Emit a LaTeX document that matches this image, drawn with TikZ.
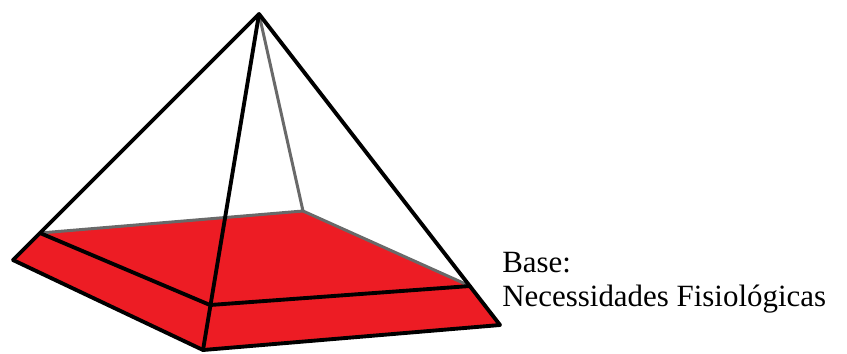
\documentclass[tikz,border=0pt]{standalone}
\usepackage{fontspec}
\setmainfont{Liberation Serif}
\usepackage{tikz}
\usetikzlibrary{positioning, calc}

\definecolor{basered}{RGB}{237,28,36}
\definecolor{backgray}{RGB}{105,105,105}

\begin{document}
\begin{tikzpicture}[x=0.02cm, y=-0.02cm,
        edge/.style={line width=2.2pt, black, line join=round, line cap=round},
        hidden/.style={line width=1.7pt, backgray, line join=round, line cap=round}]
    \useasboundingbox (0,0) rectangle (847,353);

    % corners of the pyramid
    \coordinate (apex) at (259,14);
    \coordinate (bl) at (13,260);
    \coordinate (bf) at (203,350);
    \coordinate (br) at (500,325);
    \coordinate (tl) at (40,233);
    \coordinate (tb) at (303,211);
    \coordinate (tr) at (470,286);
    \coordinate (tf) at (210,305);

    % the red base
    \fill[basered] (bl) -- (tl) -- (tb) -- (tr) -- (br) -- (bf) -- cycle;

    % back edges
    \draw[hidden] (tl) -- (tb) -- (tr);
    \draw[hidden] (apex) -- (tb);

    % front edges
    \draw[edge] (apex) -- (bl);
    \draw[edge] (apex) -- (bf);
    \draw[edge] (apex) -- (br);
    \draw[edge] (tl) -- (tf) -- (tr);
    \draw[edge] (bl) -- (bf) -- (br);

    \node[anchor=north west, inner sep=0pt, align=left,
          font=\fontsize{17.6}{19.5}\selectfont] (label) at (502,252)
        {Base:\\Necessidades Fisiológicas};
\end{tikzpicture}
\end{document}
